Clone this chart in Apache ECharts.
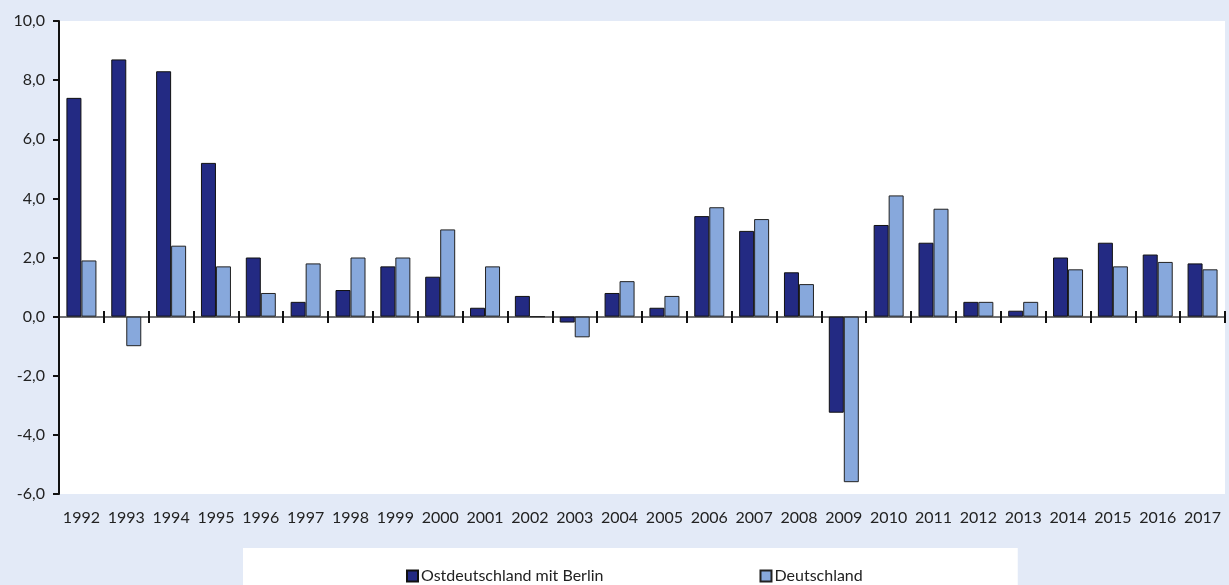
<!DOCTYPE html>
<html>
<head>
<meta charset="utf-8">
<script src="https://cdn.jsdelivr.net/npm/echarts@6/dist/echarts.min.js"></script>
<style>
  html, body { margin: 0; padding: 0; background: #e3eaf7; }
  #chart { width: 1229px; height: 585px; }
</style>
</head>
<body>
<div id="chart"></div>
<script>
var years = ['1992', '1993', '1994', '1995', '1996', '1997', '1998', '1999', '2000', '2001', '2002', '2003', '2004',
    '2005', '2006', '2007', '2008', '2009', '2010', '2011', '2012', '2013', '2014', '2015', '2016', '2017'];
var ostList = [7.4, 8.7, 8.3, 5.2, 2.0, 0.5, 0.9, 1.7, 1.35, 0.3, 0.7, -0.2, 0.8,
    0.3, 3.4, 2.9, 1.5, -3.25, 3.1, 2.5, 0.5, 0.2, 2.0, 2.5, 2.1, 1.8];
var deList = [1.9, -1.0, 2.4, 1.7, 0.8, 1.8, 2.0, 2.0, 2.95, 1.7, 0.0, -0.7, 1.2,
    0.7, 3.7, 3.3, 1.1, -5.6, 4.1, 3.65, 0.5, 0.5, 1.6, 1.7, 1.85, 1.6];
var seriesNames = ['Ostdeutschland mit Berlin', 'Deutschland'];

var fontName = 'Lato';
var zeroOffset = -177; // zero line sits 6 units above the grid bottom
var chart = echarts.init(document.getElementById('chart'), null, {renderer: 'canvas'});

chart.setOption({
    backgroundColor: '#e3eaf7',
    animation: false,
    grid: {
        left: 59,
        right: 4,
        top: 21,
        bottom: 91,
        show: true,
        backgroundColor: '#fff',
        borderWidth: 0
    },
    legend: {
        data: seriesNames,
        left: 243,
        top: 548,
        backgroundColor: '#fff',
        padding: [20, 155, 8, 163],
        itemGap: 156,
        itemWidth: 11,
        itemHeight: 11,
        icon: 'rect',
        textStyle: {fontFamily: fontName, fontSize: 16, color: '#222', padding: [0, 0, 0, -2]}
    },
    xAxis: [
        {
            type: 'category',
            position: 'bottom',
            data: years,
            axisLine: {show: false, onZero: false},
            axisTick: {show: false},
            axisLabel: {interval: 0, fontFamily: fontName, fontSize: 16, color: '#222', margin: 16}
        },
        {
            type: 'category',
            position: 'bottom',
            offset: zeroOffset,
            data: years,
            axisLine: {show: true, onZero: false, lineStyle: {color: '#444', width: 1.5}},
            axisTick: {show: true, interval: 0, length: 6, lineStyle: {color: '#111', width: 2}},
            axisLabel: {show: false}
        },
        {
            type: 'category',
            position: 'bottom',
            offset: zeroOffset,
            data: years,
            axisLine: {show: false, onZero: false},
            axisTick: {show: true, interval: 0, inside: true, length: 6, lineStyle: {color: '#111', width: 2}},
            axisLabel: {show: false}
        }
    ],
    yAxis: {
        type: 'value',
        min: -6,
        max: 10,
        interval: 2,
        splitLine: {show: false},
        axisLine: {show: true, lineStyle: {color: '#111', width: 2}},
        axisTick: {show: true, length: 6, lineStyle: {color: '#111', width: 2}},
        axisLabel: {
            fontFamily: fontName,
            fontSize: 16,
            color: '#222',
            margin: 14,
            formatter: function (v) {
                return v.toFixed(1).replace('.', ',');
            }
        }
    },
    series: [
        {
            name: seriesNames[0],
            type: 'bar',
            xAxisIndex: 0,
            data: ostList,
            barWidth: 15,
            barGap: '0%',
            itemStyle: {color: '#232a83', borderColor: '#111', borderWidth: 1}
        },
        {
            name: seriesNames[1],
            type: 'bar',
            xAxisIndex: 0,
            data: deList,
            barWidth: 15,
            barGap: '0%',
            itemStyle: {color: '#87a8dc', borderColor: '#222', borderWidth: 1}
        }
    ]
});
</script>
</body>
</html>
